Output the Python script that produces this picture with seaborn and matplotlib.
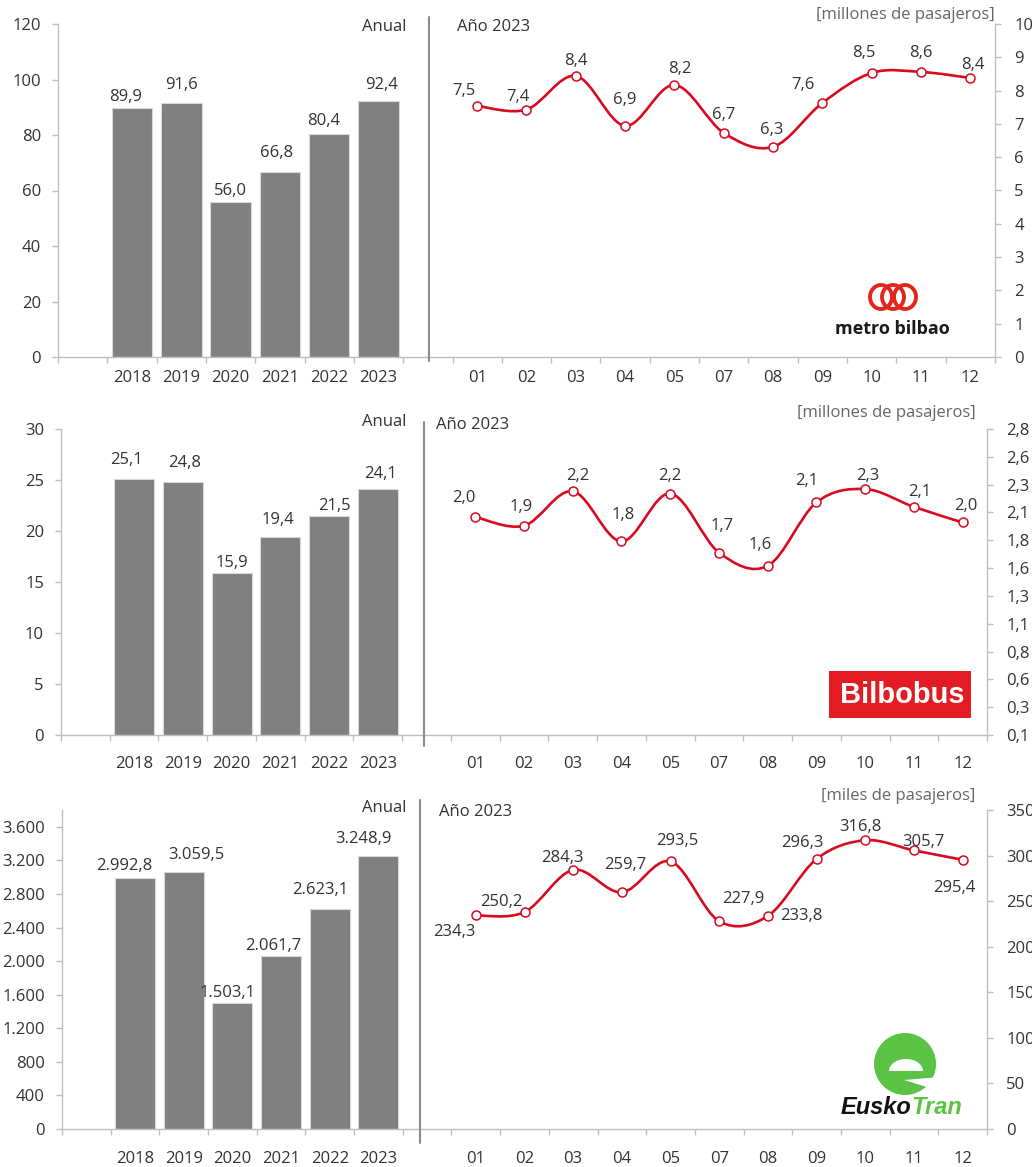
import numpy as np
import pandas as pd
import seaborn as sns
import matplotlib.pyplot as plt
import matplotlib.patches as mpatches
import matplotlib.transforms as mtransforms
from matplotlib.path import Path

# ---- data ----
years = ['2018', '2019', '2020', '2021', '2022', '2023']
months = ['01', '02', '03', '04', '05', '07', '08', '09', '10', '11', '12']

metro_year = [89.9, 91.6, 56.0, 66.8, 80.4, 92.4]
metro_month = [7.54, 7.43, 8.44, 6.94, 8.17, 6.73, 6.31, 7.63, 8.53, 8.56, 8.38]
metro_month_labels = ['7,5', '7,4', '8,4', '6,9', '8,2', '6,7', '6,3', '7,6', '8,5', '8,6', '8,4']

bus_year = [25.1, 24.8, 15.9, 19.4, 21.5, 24.1]
bus_month = [2.01, 1.93, 2.24, 1.79, 2.22, 1.69, 1.57, 2.14, 2.26, 2.10, 1.96]
bus_month_labels = ['2,0', '1,9', '2,2', '1,8', '2,2', '1,7', '1,6', '2,1', '2,3', '2,1', '2,0']
bus_right_ticklabels = ['0,1', '0,3', '0,6', '0,8', '1,1', '1,3', '1,6', '1,8', '2,1', '2,3', '2,6', '2,8']

tram_year = [2992.8, 3059.5, 1503.1, 2061.7, 2623.1, 3248.9]
# the 02 point sits at ~238 in the source although it is labelled 250,2
tram_month = [234.3, 238.0, 284.3, 259.7, 293.5, 227.9, 233.8, 296.3, 316.8, 305.7, 295.4]
tram_month_labels = ['234,3', '250,2', '284,3', '259,7', '293,5', '227,9', '233,8',
                     '296,3', '316,8', '305,7', '295,4']

# ---- style ----
sns.set_theme(style='ticks')
plt.rcParams['font.family'] = ['Open Sans', 'DejaVu Sans']
GREY = '#808080'
RED = '#D80A1F'
AX = '#BFBFBF'
TXT = '#333333'
FS = 12

W, H = 1032, 1167
fig = plt.figure(figsize=(W / 100, H / 100), dpi=100)
PX = mtransforms.Affine2D().scale(0.01, -0.01).translate(0, H / 100) + fig.dpi_scale_trans

order = ['_a'] + years + ['_b'] + months
xbar = list(range(1, 7))
xmon = list(range(8, 19))


def es(v, d=1):
    s = f"{v:,.{d}f}"
    return s.replace(',', ' ').replace('.', ',').replace(' ', '.')


def smooth_path(xs, ys):
    pts = list(zip(xs, ys))
    n = len(pts)
    verts = [pts[0]]
    codes = [Path.MOVETO]
    for i in range(n - 1):
        p0 = pts[i - 1] if i > 0 else pts[i]
        p1, p2 = pts[i], pts[i + 1]
        p3 = pts[i + 2] if i + 2 < n else pts[i + 1]
        c1 = (p1[0] + (p2[0] - p0[0]) / 6, p1[1] + (p2[1] - p0[1]) / 6)
        c2 = (p2[0] - (p3[0] - p1[0]) / 6, p2[1] - (p3[1] - p1[1]) / 6)
        verts += [c1, c2, p2]
        codes += [Path.CURVE4] * 3
    return Path(verts, codes)


def draw_row(r):
    l, t, rr, b = r['box']
    ax = fig.add_axes([l / W, 1 - b / H, (rr - l) / W, (b - t) / H])
    df = pd.DataFrame({'year': years, 'val': r['bars']})
    sns.barplot(data=df, x='year', y='val', order=order, color=GREY, saturation=1,
                width=0.82, edgecolor='#D9D9D9', linewidth=0.8, ax=ax)
    ax.set_ylim(*r['ylim'])
    ax.set_yticks(r['yticks'], labels=r['yticklabels'])
    ax.set_xlabel('')
    ax.set_ylabel('')

    # bar values
    for p, v, (dx, dy) in zip(ax.patches, r['bars'], r['bar_off']):
        ax.annotate(es(v), (p.get_x() + p.get_width() / 2, p.get_height()),
                    xytext=(dx * 0.72, dy * 0.72), textcoords='offset points',
                    ha='center', va='bottom', fontsize=FS, color=TXT)

    # monthly line on the right axis
    ax2 = ax.twinx()
    ax2.add_patch(mpatches.PathPatch(smooth_path(xmon, r['line']), fill=False,
                                     edgecolor=RED, lw=1.9, zorder=2))
    sns.scatterplot(x=xmon, y=r['line'], ax=ax2, s=42, color='white', edgecolor=RED,
                    linewidth=1.1, zorder=3, legend=False)
    ax2.set_ylim(*r['y2lim'])
    ax2.set_yticks(r['y2ticks'], labels=r['y2ticklabels'])
    ax2.set_ylabel('')
    for x, y, s, (dx, dy) in zip(xmon, r['line'], r['line_labels'], r['line_off']):
        ax2.annotate(s, (x, y), xytext=(dx * 0.72, dy * 0.72), textcoords='offset points',
                     ha='center', va='center', fontsize=FS, color=TXT)

    # category axis: ticks on slot borders, labels in slot centres
    ax.set_xlim(-0.5, 18.5)
    ax.set_xticks(np.arange(-0.5, 19, 1), labels=[''] * 20)
    ax.set_xticks(xbar + xmon, labels=years + months, minor=True)
    ax.tick_params(axis='x', which='major', length=4.3, width=1, color=AX, bottom=True)
    ax.tick_params(axis='x', which='minor', length=0, pad=r['xpad'], labelsize=FS, labelcolor=TXT)
    ax.tick_params(axis='y', length=4.3, width=1, color=AX, pad=8, labelsize=FS,
                   labelcolor=TXT, left=True)
    ax2.tick_params(axis='y', length=4.3, width=1, color=AX, pad=9.5, labelsize=FS,
                    labelcolor=TXT, right=True, left=False)

    for sp in ['top', 'right']:
        ax.spines[sp].set_visible(False)
    for sp in ['top', 'left', 'bottom']:
        ax2.spines[sp].set_visible(False)
    for a, sp in [(ax, 'left'), (ax, 'bottom'), (ax2, 'right')]:
        a.spines[sp].set_color(AX)
        a.spines[sp].set_linewidth(1)

    # separator between annual and monthly part
    sx, ylo, yhi = r['sep']
    ax.plot([sx, sx], [ylo, yhi], color='#8C8C8C', lw=1.5, clip_on=False,
            transform=ax.get_xaxis_transform(), zorder=4)

    ax_, ay_ = r['anual']
    fig.text(ax_, ay_, 'Anual', transform=PX, ha='right', va='center', fontsize=FS, color=TXT)
    bx_, by_ = r['ano']
    fig.text(bx_, by_, 'Año 2023', transform=PX, ha='left', va='center', fontsize=FS, color=TXT)
    ux, uy, utext = r['units']
    fig.text(ux, uy, utext, transform=PX, ha='right', va='center', fontsize=FS, color='#666666')
    return ax, ax2


rows = [
    dict(box=(58, 24, 995, 357), bars=metro_year,
         bar_off=[(-6, 3), (0, 10), (0, 3), (-3, 11), (-6, 5), (3, 8)],
         ylim=(0, 120), yticks=list(range(0, 121, 20)),
         yticklabels=[str(v) for v in range(0, 121, 20)],
         line=metro_month, line_labels=metro_month_labels,
         line_off=[(-13, 15), (-9, 13), (0, 15), (0, 26), (5, 16), (0, 18),
                   (-1, 17), (-19, 18), (-8, 20), (0, 19), (3, 13)],
         y2lim=(0, 10), y2ticks=list(range(0, 11)),
         y2ticklabels=[str(v) for v in range(0, 11)],
         sep=(7.02, 1 + 7 / 333, -4 / 333), xpad=9.5,
         anual=(406, 27), ano=(457, 27), units=(995, 15, '[millones de pasajeros]')),
    dict(box=(61, 429, 987, 735), bars=bus_year,
         bar_off=[(-8, 11), (2, 11), (0, 2), (-2, 9), (5, 2), (3, 7)],
         ylim=(0, 30), yticks=list(range(0, 31, 5)),
         yticklabels=[str(v) for v in range(0, 31, 5)],
         line=bus_month, line_labels=bus_month_labels,
         line_off=[(-11, 19), (-3, 19), (5, 15), (2, 26), (0, 18), (3, 27),
                   (-8, 21), (-10, 21), (3, 13), (6, 15), (3, 16)],
         y2lim=(0.05, 2.8), y2ticks=list(np.linspace(0.05, 2.8, 12)),
         y2ticklabels=bus_right_ticklabels,
         sep=(6.95, 1 + 7 / 306, -11 / 306), xpad=15,
         anual=(406, 422), ano=(436, 425), units=(976, 413, '[millones de pasajeros]')),
    dict(box=(62, 810, 987, 1129), bars=tram_year,
         bar_off=[(-11, 4), (13, 9), (-5, 2), (-8, 2), (-10, 11), (-15, 9)],
         ylim=(0, 3800), yticks=list(range(0, 3601, 400)),
         yticklabels=[es(v, 0) for v in range(0, 3601, 400)],
         line=tram_month, line_labels=tram_month_labels,
         line_off=[(-22, -17), (-23, 10), (-11, 12), (3, 27), (7, 20), (24, 22),
                   (33, 0), (-14, 16), (-5, 13), (9, 8), (-8, -28)],
         y2lim=(0, 350), y2ticks=list(range(0, 351, 50)),
         y2ticklabels=[str(v) for v in range(0, 351, 50)],
         sep=(6.86, 1 + 10 / 319, -14 / 319), xpad=15.5,
         anual=(406, 808), ano=(439, 812), units=(975, 796, '[miles de pasajeros]')),
]

for r in rows:
    draw_row(r)

# ---- logos (approximations) ----
# metro bilbao
for cx in [881, 893, 905]:
    fig.patches.append(mpatches.Ellipse((cx, 297), 22, 24, fill=False, edgecolor='#E3251B',
                                        lw=2.8, transform=PX))
fig.text(892, 329, 'metro bilbao', transform=PX, ha='center', va='center',
         fontsize=13, fontweight='bold', color='#1A1A1A')

# Bilbobus
fig.patches.append(mpatches.Rectangle((829, 671), 142, 47, facecolor='#E31B23',
                                      edgecolor='none', transform=PX))
fig.text(902, 695, 'Bilbobus', transform=PX, ha='center', va='center',
         fontsize=21, fontweight='bold', color='white', family=['Liberation Sans', 'DejaVu Sans'])

# EuskoTran
GREEN = '#5BC343'
fig.patches.append(mpatches.Circle((905, 1064), 31, facecolor=GREEN, edgecolor='none', transform=PX))
th = np.linspace(np.pi, 2 * np.pi, 40)
eye = np.column_stack([906 + 17 * np.cos(th), 1071 + 12 * np.sin(th)])
fig.patches.append(mpatches.Polygon(eye, closed=True, facecolor='white', edgecolor='none', transform=PX))
fig.patches.append(mpatches.Polygon([(904, 1080), (940, 1077), (940, 1091)], closed=True,
                                    facecolor='white', edgecolor='none', transform=PX))
fig.text(911, 1107, 'Eusko', transform=PX, ha='right', va='center', fontsize=17,
         fontweight='bold', style='italic', color='#111111', family=['Liberation Sans', 'DejaVu Sans'])
fig.text(911, 1107, 'Tran', transform=PX, ha='left', va='center', fontsize=17,
         fontweight='bold', style='italic', color=GREEN, family=['Liberation Sans', 'DejaVu Sans'])

fig.savefig('out.png', dpi=100)
